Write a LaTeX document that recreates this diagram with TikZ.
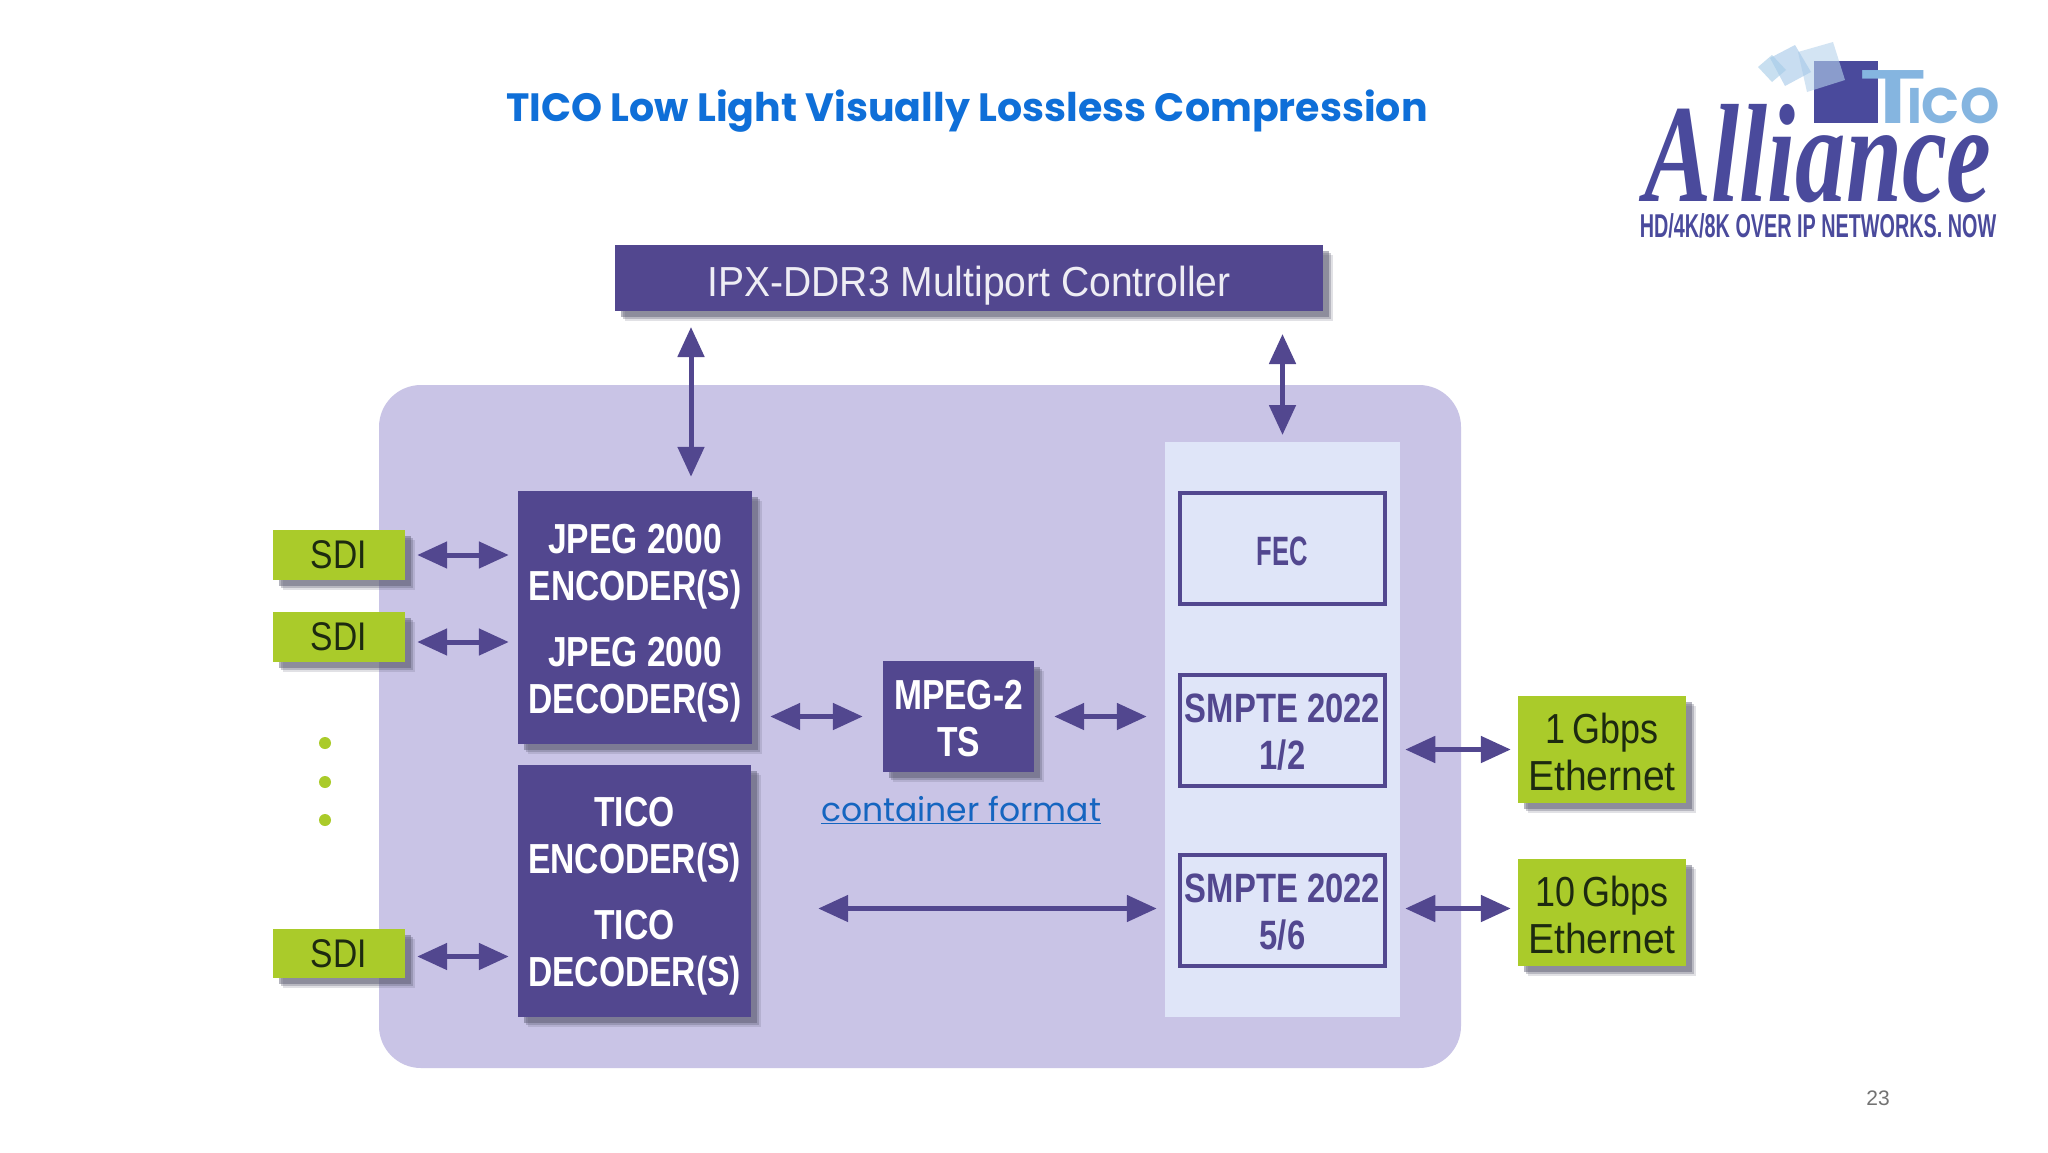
\documentclass[tikz,border=0pt]{standalone}
\usepackage{fontspec}
\usepackage{graphicx}
\usetikzlibrary{arrows.meta,shadows,calc}
\setmainfont{Liberation Sans}
\newfontfamily\blockfont[FakeStretch=0.80]{Liberation Sans}
\newfontfamily\thinfont[FakeStretch=0.84]{Liberation Sans}
\newfontfamily\etherfont[FakeStretch=0.93]{Liberation Sans}
\newfontfamily\barfont[FakeStretch=0.93]{Liberation Sans}
\newfontfamily\gothic{Poppins}
\newfontfamily\tagfont[FakeStretch=0.60]{Liberation Sans}
\newfontfamily\scriptish[FakeStretch=0.72]{Liberation Serif}
\newfontfamily\tfont[FakeStretch=1.35]{Liberation Sans}
\newcommand{\pushdown}[1]{\rule{0pt}{#1pt}}
\definecolor{bgpurple}{HTML}{C9C4E6}
\definecolor{panelblue}{HTML}{DFE5F8}
\definecolor{blockpurple}{HTML}{52478F}
\definecolor{limegreen}{HTML}{AACB2A}
\definecolor{titleblue}{HTML}{0F6FD8}
\definecolor{linkblue}{HTML}{1565C0}
\definecolor{logopurple}{HTML}{4A4A9C}
\definecolor{logoblue}{HTML}{85B5E0}
\definecolor{darktext}{HTML}{1D2A10}
\definecolor{shadowgrey}{HTML}{5A5A70}
\tikzset{
  softshadow/.style={
    general shadow={shadow xshift=10pt,shadow yshift=-10pt,fill=shadowgrey,opacity=.18},
    general shadow={shadow xshift=8pt,shadow yshift=-8pt,fill=shadowgrey,opacity=.30},
    general shadow={shadow xshift=6pt,shadow yshift=-6pt,fill=shadowgrey,opacity=.45}},
  block/.style={softshadow,fill=blockpurple,text=white,inner sep=0pt,align=center,
    font=\blockfont\bfseries\fontsize{42}{47}\selectfont},
  ctlbar/.style={softshadow,fill=blockpurple,text=white!90!blockpurple,inner sep=0pt,
    font=\barfont\fontsize{42}{47}\selectfont},
  greenbox/.style={softshadow,fill=limegreen,text=darktext,inner sep=0pt,align=center,
    font=\thinfont\fontsize{40}{47}\selectfont},
  etherbox/.style={greenbox,font=\etherfont\fontsize{42}{47}\selectfont},
  outlinebox/.style={draw=blockpurple,line width=4.5pt,inner sep=0pt,align=center,text=blockpurple,
    font=\blockfont\bfseries\fontsize{41}{47}\selectfont},
  twoway/.style={draw=blockpurple,line width=5pt,
    {Triangle[length=30pt,width=26pt,fill=blockpurple]}-{Triangle[length=30pt,width=26pt,fill=blockpurple]}},
  greendot/.style={circle,fill=limegreen,minimum size=12pt,inner sep=0pt},
  paneshape/.style={opacity=.6},
}
\begin{document}
\begin{tikzpicture}[x=1pt,y=-1pt]
\useasboundingbox (0,0) rectangle (2048,1152);
\fill[white] (0,0) rectangle (2048,1152);

% title and page number
\node[text=titleblue,font=\gothic\bfseries\fontsize{39.5}{50}\selectfont] (title) at (967,111) {TICO Low Light Visually Lossless Compression};
\node[text=black!55,font=\fontsize{21}{25}\selectfont] (page) at (1878,1098) {23};

% logo
\node[fill=logopurple,minimum width=64pt,minimum height=62pt,inner sep=0pt] (logosq) at (1846,92) {};
\path[fill=logoblue!60!white,paneshape] (1798,52)--(1833,42)--(1845,80)--(1807,92)--cycle;
\path[fill=logoblue!75!white,paneshape] (1770,58)--(1795,45)--(1811,72)--(1785,86)--cycle;
\path[fill=cyan!30!logoblue!60!white,paneshape] (1758,67)--(1772,55)--(1786,70)--(1772,82)--cycle;
\node[text=logoblue,font=\tfont\bfseries\fontsize{77}{77}\selectfont,inner sep=0pt,anchor=base] (logot) at (1893,123) {T};
\node[text=logoblue,font=\gothic\bfseries\fontsize{50}{50}\selectfont,inner sep=0pt,anchor=base west] (logoico) at (1907,123) {ICO};
\node[text=logopurple,font=\scriptish\bfseries\itshape\fontsize{140}{140}\selectfont,inner sep=0pt,anchor=base] (alliance) at (1818,201) {Alliance};
\node[text=logopurple,font=\tagfont\bfseries\fontsize{33}{33}\selectfont,inner sep=0pt,anchor=base] (tagline) at (1818,237) {HD/4K/8K OVER IP NETWORKS. NOW};

% backgrounds
\fill[bgpurple,rounded corners=42pt] (379,385) rectangle (1461,1068);
\fill[panelblue] (1165,442) rectangle (1400,1017);

% blocks
\node[ctlbar,minimum width=708pt,minimum height=66pt] (ctl) at (969,278) {\pushdown{46}IPX-DDR3 Multiport Controller};
\node[block,minimum width=234pt,minimum height=253pt] (jpeg) at (635,617.5) {\pushdown{40}JPEG 2000\\ENCODER(S)\\[19pt]JPEG 2000\\DECODER(S)};
\node[block,minimum width=233pt,minimum height=252pt] (tico) at (634.5,891) {\pushdown{40}TICO\\ENCODER(S)\\[19pt]TICO\\DECODER(S)};
\node[block,minimum width=151pt,minimum height=111pt] (mpeg) at (958.5,716.5) {\pushdown{33}MPEG-2\\TS};
\node[outlinebox,minimum width=205pt,minimum height=111pt] (fec) at (1282.5,548.5) {\pushdown{34}\scalebox{.78}[1]{FEC}};
\node[outlinebox,minimum width=205pt,minimum height=111pt] (smpa) at (1282.5,730.5) {\pushdown{32}SMPTE 2022\\1/2};
\node[outlinebox,minimum width=205pt,minimum height=111pt] (smpb) at (1282.5,910.5) {\pushdown{32}SMPTE 2022\\5/6};

% green boxes
\node[greenbox,minimum width=132pt,minimum height=50pt] (sdia) at (339,555) {SDI};
\node[greenbox,minimum width=132pt,minimum height=50pt] (sdib) at (339,637) {SDI};
\node[greenbox,minimum width=132pt,minimum height=49pt] (sdic) at (339,953.5) {SDI};
\node[etherbox,minimum width=168pt,minimum height=107pt] (etha) at (1602,749.5) {\pushdown{35}\scalebox{.92}[1]{1\,Gbps}\\Ethernet};
\node[etherbox,minimum width=168pt,minimum height=107pt] (ethb) at (1602,912.5) {\pushdown{35}\scalebox{.92}[1]{10\,Gbps}\\Ethernet};

% dots
\node[greendot] (dota) at (325,743) {};
\node[greendot] (dotb) at (325,782) {};
\node[greendot] (dotc) at (325,820) {};

% label
\node[text=linkblue,font=\gothic\fontsize{33}{38}\selectfont,inner sep=0pt] (cf) at (961,810) {\underline{container format}};

% connectors
\coordinate (ctlL) at (691,311);
\coordinate (ctlR) at (1282.5,311);
\coordinate (panelTop) at (1282.5,442);
\draw[twoway,shorten <=16pt,shorten >=14pt] (ctlL) -- (ctlL |- jpeg.north);
\draw[twoway,shorten <=23pt,shorten >=7pt] (ctlR) -- (panelTop);
\draw[twoway,shorten <=12pt,shorten >=9pt] (sdia.east) -- (sdia.east -| jpeg.west);
\draw[twoway,shorten <=12pt,shorten >=9pt] ([yshift=-5pt]sdib.east) -- ([yshift=-5pt]sdib.east -| jpeg.west);
\draw[twoway,shorten <=12pt,shorten >=9pt] ([yshift=-3pt]sdic.east) -- ([yshift=-3pt]sdic.east -| tico.west);
\draw[twoway,shorten <=18pt,shorten >=20pt] (mpeg.west -| jpeg.east) -- (mpeg.west);
\draw[twoway,shorten <=20pt,shorten >=31pt] (mpeg.east) -- (mpeg.east -| smpa.west);
\draw[twoway,shorten <=67pt,shorten >=21pt] ([yshift=2pt]smpb.west -| tico.east) -- ([yshift=2pt]smpb.west);
\draw[twoway,shorten <=18pt,shorten >=7pt] (etha.west -| smpa.east) -- (etha.west);
\draw[twoway,shorten <=18pt,shorten >=7pt] ([yshift=4pt]ethb.west -| smpb.east) -- ([yshift=4pt]ethb.west);
\end{tikzpicture}
\end{document}
